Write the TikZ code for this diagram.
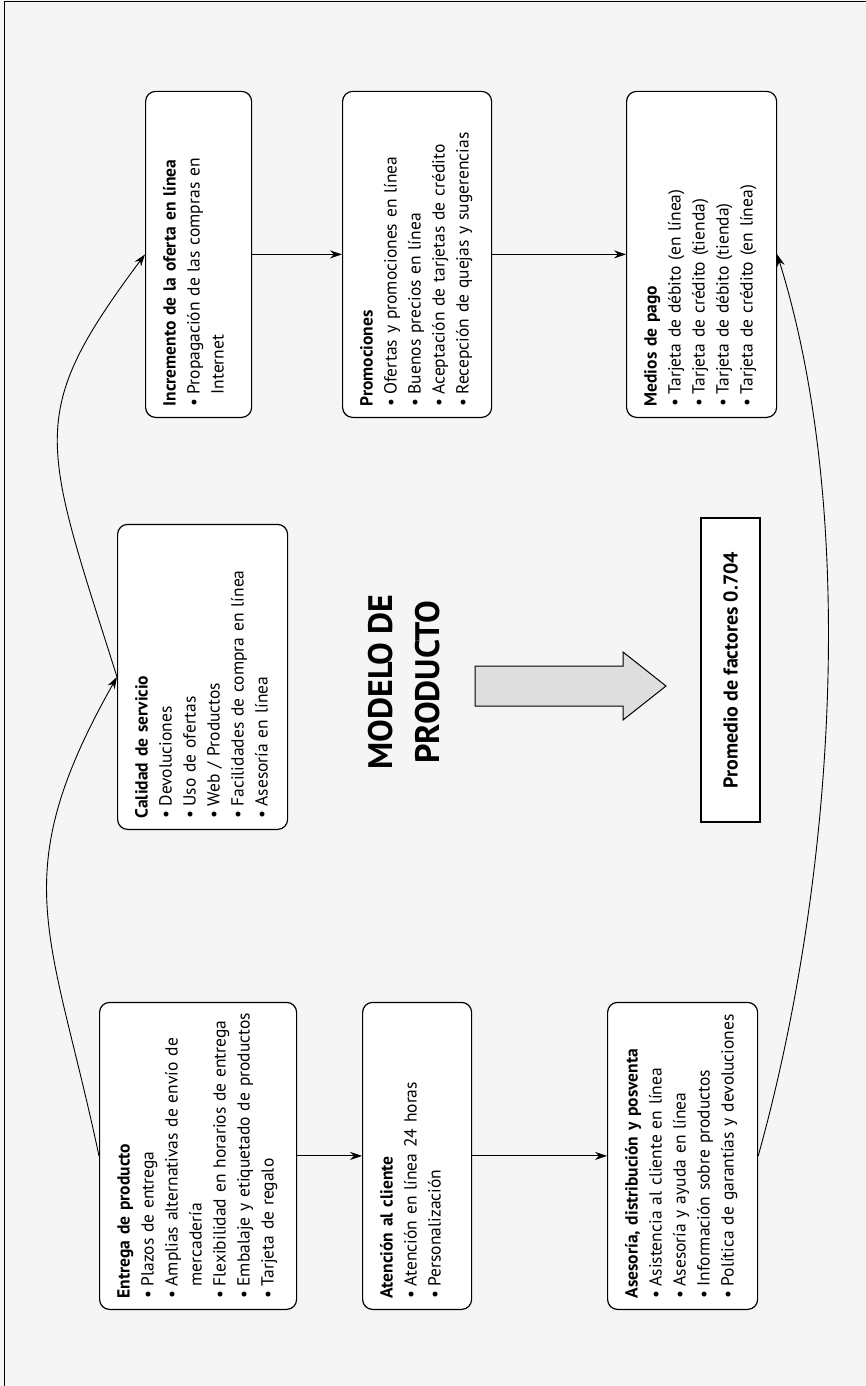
\documentclass[tikz,border=0pt]{standalone}
\usepackage{fontspec}
\setmainfont{PT Sans}
\usetikzlibrary{arrows.meta}
\newcommand{\vin}[1]{\mbox{\makebox[12pt][l]{\textbullet}#1}}
\newcommand{\sig}[1]{\mbox{\hspace*{12pt}#1}}
\tikzset{
  caja/.style={draw, line width=1.2pt, rounded corners=10pt, fill=white, rotate=90,
    anchor=north west, align=left, inner xsep=11pt, inner ysep=12pt, text height=18pt,
    font=\fontsize{17.5}{24}\selectfont},
  flecha/.style={-{Stealth[length=12pt,width=8pt]}, line width=0.9pt},
}
\begin{document}
\begin{tikzpicture}[x=1pt, y=-1pt]
  \useasboundingbox (0,0) rectangle (866,1386);
  \fill[black!4] (0,0) rectangle (866,1386);
  \draw[line width=1pt] (4,1386) -- (4,2) -- (866,2);

  \node[caja, text width=285pt, text depth=155pt] (entrega) at (99,1310)
    {\textbf{Entrega de producto}\\
     \vin{Plazos de entrega}\\
     \vin{Amplias alternativas de envío de}\\
     \sig{mercadería}\\
     \vin{Flexibilidad en horarios de entrega}\\
     \vin{Embalaje y etiquetado de productos}\\
     \vin{Tarjeta de regalo}};
  \node[caja, text width=285pt, text depth=67pt] (atencion) at (362,1310)
    {\textbf{Atención al cliente}\\
     \vin{Atención en línea 24 horas}\\
     \vin{Personalización}};
  \node[caja, text width=285pt, text depth=108pt] (asesoria) at (607,1310)
    {\textbf{Asesoría, distribución y posventa}\\
     \vin{Asistencia al cliente en línea}\\
     \vin{Asesoría y ayuda en línea}\\
     \vin{Información sobre productos}\\
     \vin{Política de garantías y devoluciones}};
  \node[caja, text width=283pt, text depth=128pt] (calidad) at (117,830)
    {\textbf{Calidad de servicio}\\
     \vin{Devoluciones}\\
     \vin{Uso de ofertas}\\
     \vin{Web / Productos}\\
     \vin{Facilidades de compra en línea}\\
     \vin{Asesoría en línea}};
  \node[caja, text width=304pt, text depth=64pt] (incremento) at (145,418)
    {\textbf{Incremento de la oferta en línea}\\
     \vin{Propagación de las compras en}\\
     \sig{Internet}};
  \node[caja, text width=304pt, text depth=107pt] (promociones) at (342,418)
    {\textbf{Promociones}\\
     \vin{Ofertas y promociones en línea}\\
     \vin{Buenos precios en línea}\\
     \vin{Aceptación de tarjetas de crédito}\\
     \vin{Recepción de quejas y sugerencias}};
  \node[caja, text width=304pt, text depth=108pt] (medios) at (626,418)
    {\textbf{Medios de pago}\\
     \vin{Tarjeta de débito (en línea)}\\
     \vin{Tarjeta de crédito (tienda)}\\
     \vin{Tarjeta de débito (tienda)}\\
     \vin{Tarjeta de crédito (en línea)}};

  \node[rotate=90, align=center, font=\bfseries\fontsize{34}{47}\selectfont] (titulo) at (404,682)
    {MODELO DE\\PRODUCTO};
  \draw[line width=1pt, fill=black!13] (475,666) -- (623,666) -- (623,652) -- (666,686)
    -- (623,720) -- (623,706) -- (475,706) -- cycle;
  \node[draw, line width=1.2pt, fill=white, rotate=90, minimum width=304pt, minimum height=59pt,
    font=\bfseries\fontsize{20}{24}\selectfont] (promedio) at (730.5,670) {Promedio de factores 0.704};

  \draw[flecha] (entrega.south) -- (atencion.north);
  \draw[flecha] (atencion.south) -- (asesoria.north);
  \draw[flecha] (incremento.south) -- (promociones.north);
  \draw[flecha] (promociones.south) -- (medios.north);
  \draw[flecha] (entrega.north) .. controls (51,930) and (4,877) .. (calidad.north);
  \draw[flecha] (calidad.north) .. controls (42,440) and (25,415) .. (incremento.north);
  \draw[flecha] (asesoria.south) .. controls (833,888) and (860,521) .. (medios.south);
\end{tikzpicture}
\end{document}
